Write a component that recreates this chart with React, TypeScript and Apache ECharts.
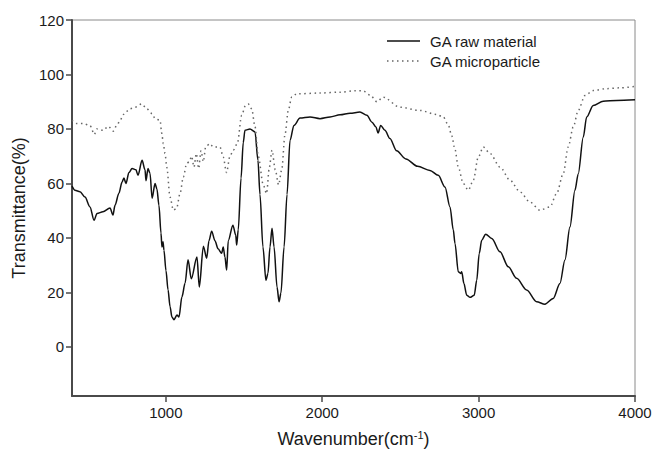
import React, { useEffect, useRef } from "react";
import * as echarts from "echarts";

const rawWn = [400,419,451,483,515,541,560,598,643,662,675,700,720,732,745,764,784,809,822,848,867,873,886,899,912,931,943,956,969,975,982,988,1001,1014,1027,1039,1052,1071,1084,1103,1123,1142,1163,1199,1214,1240,1261,1276,1293,1314,1334,1357,1367,1378,1389,1399,1429,1447,1453,1463,1481,1495,1506,1538,1570,1589,1602,1621,1640,1653,1666,1679,1692,1711,1724,1736,1756,1775,1794,1819,1858,1922,1986,2050,2114,2178,2241,2286,2318,2344,2357,2374,2401,2433,2476,2535,2610,2689,2742,2785,2817,2838,2849,2870,2885,2892,2906,2924,2945,2972,2988,3004,3020,3045,3084,3137,3190,3243,3307,3371,3424,3477,3520,3552,3584,3616,3637,3669,3691,3733,3797,3883,4000];
const rawT = [59,57.5,57,55,51.4,46.5,49,49.6,51,48.4,52,56.4,60.5,62,60,64,65.5,65,63,68.5,65,61,65.5,63.7,54.6,60,58,52,41.8,36.7,38.6,35.5,28,21,14.8,11,10,11.7,11,18.4,23.4,32,25,33,22,37,32.6,39,42.5,39,36,34.4,36.7,33,28.2,39,44.7,41,37.4,43,62,75,79.5,80,79,68.5,56,36.7,24.5,27,36.7,43.6,36.7,22,16.6,19.8,36.7,56,75.8,81.3,84,84.4,83.8,84.4,85.2,85.8,86.2,85,82.5,80.7,78.5,81.3,79.5,76.5,72,69,66.3,64.8,63,58.7,51.4,43,38,27.6,27,27.6,23.3,19,18.2,19,24.5,34.3,39.2,41.4,39.8,34.9,29.4,25.2,20.9,16.6,15.7,17.8,23.3,31.9,44,57.5,63.5,77,84.4,88.6,90.2,90.5,90.7];

const microWn = [400,430,472,515,543,558,600,632,664,686,707,728,771,803,846,878,913,931,963,974,984,995,1006,1027,1048,1069,1091,1112,1133,1150,1165,1180,1195,1210,1225,1240,1255,1282,1303,1346,1367,1388,1410,1431,1457,1485,1509,1527,1549,1570,1591,1623,1644,1662,1679,1700,1721,1741,1762,1783,1805,1837,1986,2114,2210,2261,2305,2350,2389,2497,2625,2732,2774,2806,2828,2849,2870,2902,2934,2966,2998,3030,3073,3137,3201,3265,3328,3392,3456,3499,3541,3573,3605,3637,3680,3733,3819,3904,4000];
const microT = [83.2,82,82,81.3,78,80,79.5,81,79.2,81.3,83,85.3,87.4,88,89.2,87.4,85.6,83.8,83.2,78.4,74.6,71,66,55,50.2,50.9,56.4,62.4,67.3,68,70,66,71,65.5,72,68,73.5,74.6,73.4,73.4,69.7,64,70,72.2,74.6,85,88.6,89.2,87.4,81,70,59.5,56.3,66,72.2,65,59.5,65,78,86.8,91.7,92.9,93.2,93.5,94,94,92.5,90,91.7,88,86.8,85.3,84.4,81.5,77.5,72.5,66,60,57.5,61.2,69.7,73.4,71,66,61.2,56.9,53.2,50.2,51.4,56.3,63.6,73.4,80.7,86.8,92.3,94.1,94.8,95.1,95.6];

const xTicks = [1000, 2000, 3000, 4000];
const yTicks = [0, 20, 40, 60, 80, 100, 120];
const seriesNames = ["GA raw material", "GA microparticle"];

const FONT = "'Liberation Sans', Arial, sans-serif";
const RAW_COLOR = "#111";
const MICRO_COLOR = "#666";
const MICRO_DASH = [1.5, 3.5];

export default function App() {
  const ref = useRef<HTMLDivElement>(null);
  useEffect(() => {
    document.body.style.margin = "0";
    if (!ref.current) return;
    const chart = echarts.init(ref.current, undefined, { renderer: "svg" });
    const raw = rawWn.map((w, i) => [w, rawT[i]]);
    const micro = microWn.map((w, i) => [w, microT[i]]);
    const legendItem = (y: number, name: string, color: string, dash: number[] | null) => [
      {
        type: "line",
        shape: { x1: 387, y1: y, x2: 420, y2: y },
        style: { stroke: color, lineWidth: 1.5, lineDash: dash || undefined },
        silent: true,
      },
      {
        type: "text",
        x: 430,
        y: y,
        style: { text: name, fontSize: 15, fontFamily: FONT, fill: "#1a1a1a", textVerticalAlign: "middle", textAlign: "left" },
        silent: true,
      },
    ];
    chart.setOption({
      animation: false,
      textStyle: { fontFamily: FONT },
      grid: {
        left: 72, right: 21, top: 20, bottom: 58,
        show: true, borderColor: "#8a8a8a", borderWidth: 1,
      },
      graphic: [
        ...legendItem(41, seriesNames[0], RAW_COLOR, null),
        ...legendItem(61, seriesNames[1], MICRO_COLOR, MICRO_DASH),
      ],
      xAxis: {
        type: "value",
        min: 400,
        max: 4000,
        name: "Wavenumber(cm{sup|-1})",
        nameLocation: "middle",
        nameGap: 33,
        nameTextStyle: {
          fontSize: 18, color: "#1a1a1a", fontFamily: FONT,
          rich: { sup: { fontSize: 11, color: "#1a1a1a", fontFamily: FONT, padding: [0, 0, 9, 0] } },
        },
        axisLine: { show: true, onZero: false, lineStyle: { color: "#4a4a4a", width: 2 } },
        axisTick: { show: true, length: 6, customValues: xTicks, lineStyle: { color: "#4a4a4a", width: 1.5 } },
        axisLabel: {
          customValues: xTicks, fontSize: 15, color: "#1a1a1a", margin: 9, fontFamily: FONT,
          formatter: (v: number) => String(v),
        },
        splitLine: { show: false },
      },
      yAxis: {
        type: "value",
        min: -18,
        max: 120,
        name: "Transmittance(%)",
        nameLocation: "middle",
        nameGap: 42,
        nameTextStyle: { fontSize: 18, color: "#1a1a1a", fontFamily: FONT },
        axisLine: { show: true, onZero: false, lineStyle: { color: "#4a4a4a", width: 2 } },
        axisTick: { show: true, length: 6, customValues: yTicks, lineStyle: { color: "#4a4a4a", width: 1.5 } },
        axisLabel: {
          customValues: yTicks, fontSize: 15, color: "#1a1a1a", margin: 8, fontFamily: FONT,
          formatter: (v: number) => String(v),
        },
        splitLine: { show: false },
      },
      series: [
        {
          name: seriesNames[0],
          type: "line",
          data: raw,
          symbol: "none",
          smooth: 0.3,
          smoothMonotone: "x",
          lineStyle: { color: RAW_COLOR, width: 1.5 },
          itemStyle: { color: RAW_COLOR },
        },
        {
          name: seriesNames[1],
          type: "line",
          data: micro,
          symbol: "none",
          smooth: 0.3,
          smoothMonotone: "x",
          lineStyle: { color: MICRO_COLOR, width: 1.5, type: MICRO_DASH },
          itemStyle: { color: MICRO_COLOR },
        },
      ],
    });
    return () => chart.dispose();
  }, []);
  return <div ref={ref} style={{ width: 656, height: 454 }} />;
}
